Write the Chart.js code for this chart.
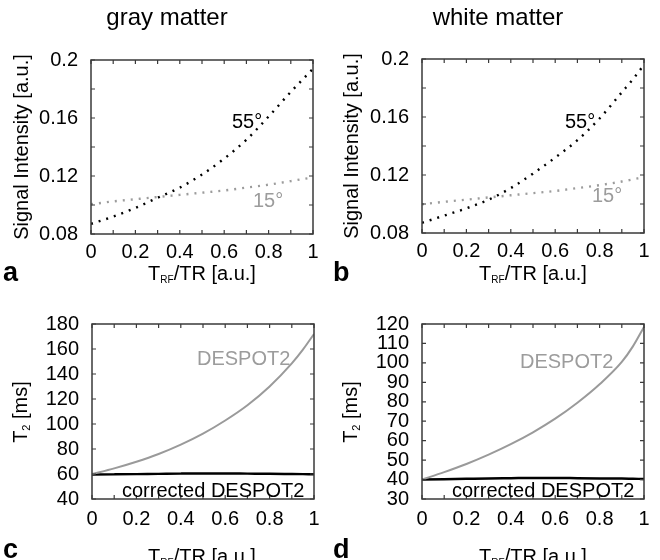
<!DOCTYPE html>
<html>
<head>
<meta charset="utf-8">
<script src="https://cdn.jsdelivr.net/npm/chart.js@4.4.1/dist/chart.umd.min.js"></script>
<style>
  html, body { margin:0; padding:0; background:#fff; }
  #page { position:relative; width:660px; height:560px; overflow:hidden; background:#fff;
          font-family:"Liberation Sans", Arial, Helvetica, sans-serif; color:#000; }
  canvas { position:absolute; }
  .t { position:absolute; line-height:1; white-space:nowrap; font-size:20px; }
  .ttl { font-size:24px; transform:translateX(-50%); }
  .lab { font-size:27px; font-weight:bold; }
  .xt { transform:translateX(-50%); }
  .yt { transform:translate(-50%,-50%) rotate(-90deg); }
  .sub { font-size:10px; vertical-align:-3px; }
  .sub2 { font-size:11px; vertical-align:-3px; }
  .gray { color:#9c9c9c; }
</style>
</head>
<body>
<div id="page">
  <canvas id="ca" width="330" height="280" style="left:0;top:0"></canvas>
  <canvas id="cb" width="330" height="280" style="left:330px;top:0"></canvas>
  <canvas id="cc" width="330" height="280" style="left:0;top:280px"></canvas>
  <canvas id="cd" width="330" height="280" style="left:330px;top:280px"></canvas>

  <div class="t ttl" style="left:167px;top:5px">gray matter</div>
  <div class="t ttl" style="left:498px;top:5px">white matter</div>

  <div class="t lab" style="left:3px;top:259px">a</div>
  <div class="t lab" style="left:333px;top:259px">b</div>
  <div class="t lab" style="left:3px;top:536px">c</div>
  <div class="t lab" style="left:333px;top:536px">d</div>

  <div class="t xt" style="left:202px;top:263px">T<span class="sub">RF</span>/TR [a.u.]</div>
  <div class="t xt" style="left:533px;top:263px">T<span class="sub">RF</span>/TR [a.u.]</div>
  <div class="t xt" style="left:202px;top:546px">T<span class="sub">RF</span>/TR [a.u.]</div>
  <div class="t xt" style="left:533px;top:546px">T<span class="sub">RF</span>/TR [a.u.]</div>

  <div class="t yt" style="left:20.5px;top:146.5px">Signal Intensity [a.u.]</div>
  <div class="t yt" style="left:350.5px;top:146px">Signal Intensity [a.u.]</div>
  <div class="t yt" style="left:20.5px;top:412px">T<span class="sub2">2</span> [ms]</div>
  <div class="t yt" style="left:350.5px;top:412px">T<span class="sub2">2</span> [ms]</div>

  <div class="t" style="left:232px;top:111px">55°</div>
  <div class="t gray" style="left:253px;top:190px">15°</div>
  <div class="t" style="left:565px;top:111px">55°</div>
  <div class="t gray" style="left:592px;top:185px">15°</div>

  <div class="t gray" style="left:197px;top:348px">DESPOT2</div>
  <div class="t" style="left:122px;top:480px">corrected DESPOT2</div>
  <div class="t gray" style="left:520px;top:351px">DESPOT2</div>
  <div class="t" style="left:452px;top:480px">corrected DESPOT2</div>
</div>
<script>
// ---- data ----
const xs = [0, 0.1, 0.2, 0.3, 0.4, 0.5, 0.6, 0.7, 0.8, 0.9, 0.95, 1.0];

const gray55 = [0.087, 0.092, 0.098, 0.105, 0.112, 0.121, 0.132, 0.145, 0.161, 0.178, 0.186, 0.194];
const gray15 = [0.1005, 0.1025, 0.104, 0.1055, 0.107, 0.1085, 0.110, 0.112, 0.114, 0.1165, 0.1178, 0.119];
const white55 = [0.087, 0.092, 0.097, 0.103, 0.111, 0.121, 0.132, 0.144, 0.159, 0.177, 0.186, 0.196];
const white15 = [0.0998, 0.1015, 0.103, 0.1045, 0.106, 0.1075, 0.109, 0.111, 0.113, 0.1155, 0.117, 0.1185];

const grayDespot2 = [60, 64.5, 69.8, 76, 83.5, 92.3, 102.8, 115, 130, 148.5, 159.5, 172];
const grayCorrected = [59.5, 59.7, 59.9, 60.1, 60.3, 60.4, 60.4, 60.3, 60.2, 60.0, 59.9, 59.8];
const whiteDespot2 = [40, 43.8, 48, 52.8, 58.2, 64.3, 71.3, 79.5, 89, 100.5, 108.5, 118.5];
const whiteCorrected = [40, 40.2, 40.4, 40.6, 40.7, 40.8, 40.8, 40.7, 40.6, 40.5, 40.4, 40.3];

// tick positions and labels
const xTicks = [0, 0.1, 0.2, 0.3, 0.4, 0.5, 0.6, 0.7, 0.8, 0.9, 1];
const xTickLabels = ["0", "", "0.2", "", "0.4", "", "0.6", "", "0.8", "", "1"];
const siTicks = [0.08, 0.10, 0.12, 0.14, 0.16, 0.18, 0.20];
const siTickLabels = ["0.08", "", "0.12", "", "0.16", "", "0.2"];
const grayT2Ticks = [40, 60, 80, 100, 120, 140, 160, 180];
const grayT2Labels = ["40", "60", "80", "100", "120", "140", "160", "180"];
const whiteT2Ticks = [30, 40, 50, 60, 70, 80, 90, 100, 110, 120];
const whiteT2Labels = ["30", "40", "50", "60", "70", "80", "90", "100", "110", "120"];

// ---- drawing ----
const FONT = { family: '"Liberation Sans", Arial, Helvetica, sans-serif', size: 20 };
const BOX = '#3a3a3a';

const boxPlugin = {
  id: 'matlabBox',
  afterDatasetsDraw(chart) {
    const { ctx, chartArea: a, scales } = chart;
    ctx.save();
    ctx.strokeStyle = BOX;
    ctx.lineWidth = 1.5;
    ctx.strokeRect(a.left, a.top, a.right - a.left, a.bottom - a.top);
    ctx.lineWidth = 1.2;
    const L = 4;
    ctx.beginPath();
    scales.x.ticks.forEach(t => {
      const px = scales.x.getPixelForValue(t.value);
      ctx.moveTo(px, a.bottom); ctx.lineTo(px, a.bottom - L);
      ctx.moveTo(px, a.top); ctx.lineTo(px, a.top + L);
    });
    scales.y.ticks.forEach(t => {
      const py = scales.y.getPixelForValue(t.value);
      ctx.moveTo(a.left, py); ctx.lineTo(a.left + L, py);
      ctx.moveTo(a.right, py); ctx.lineTo(a.right - L, py);
    });
    ctx.stroke();
    ctx.restore();
  }
};

function pts(ys) { return xs.map((x, i) => ({ x: x, y: ys[i] })); }

function labelFor(list, labels) {
  return function (v) {
    for (let i = 0; i < list.length; i++) if (Math.abs(list[i] - v) < 1e-9) return labels[i];
    return '';
  };
}

function makeChart(id, o) {
  new Chart(document.getElementById(id), {
    type: 'line',
    data: { datasets: o.datasets },
    options: {
      responsive: false, animation: false, devicePixelRatio: 1,
      layout: { padding: { left: 0, top: o.T, right: o.R, bottom: 0 } },
      plugins: { legend: { display: false }, tooltip: { enabled: false } },
      elements: { point: { radius: 0 }, line: { cubicInterpolationMode: 'monotone' } },
      scales: {
        x: {
          type: 'linear', min: 0, max: 1,
          afterBuildTicks: s => { s.ticks = xTicks.map(v => ({ value: v })); },
          afterFit: s => { s.height = o.H; },
          grid: { display: false, drawTicks: false }, border: { display: false },
          ticks: { autoSkip: false, maxRotation: 0, minRotation: 0, padding: o.xpad, color: '#000', font: FONT,
                   callback: labelFor(xTicks, xTickLabels) }
        },
        y: {
          type: 'linear', min: o.ymin, max: o.ymax,
          afterBuildTicks: s => { s.ticks = o.yTicks.map(v => ({ value: v })); },
          afterFit: s => { s.width = o.W; },
          grid: { display: false, drawTicks: false }, border: { display: false },
          ticks: { autoSkip: false, padding: 13, color: '#000', font: FONT,
                   callback: labelFor(o.yTicks, o.yLabels) }
        }
      }
    },
    plugins: [boxPlugin]
  });
}

function dotted(ys, color) {
  return { data: pts(ys), borderColor: color, borderWidth: 2.4, borderDash: [2, 6], borderCapStyle: 'butt', fill: false };
}
function solid(ys, color, w) {
  return { data: pts(ys), borderColor: color, borderWidth: w, fill: false };
}

makeChart('ca', { W: 91, T: 60, R: 17, H: 46, xpad: 6, ymin: 0.08, ymax: 0.2, yTicks: siTicks, yLabels: siTickLabels,
  datasets: [dotted(gray15, '#9c9c9c'), dotted(gray55, '#000')] });
makeChart('cb', { W: 92, T: 59, R: 16, H: 47, xpad: 6, ymin: 0.08, ymax: 0.2, yTicks: siTicks, yLabels: siTickLabels,
  datasets: [dotted(white15, '#9c9c9c'), dotted(white55, '#000')] });
makeChart('cc', { W: 92, T: 44, R: 16, H: 61, xpad: 8, ymin: 40, ymax: 180, yTicks: grayT2Ticks, yLabels: grayT2Labels,
  datasets: [solid(grayDespot2, '#9a9a9a', 2), solid(grayCorrected, '#000', 2.5)] });
makeChart('cd', { W: 92, T: 44, R: 16, H: 61, xpad: 8, ymin: 30, ymax: 120, yTicks: whiteT2Ticks, yLabels: whiteT2Labels,
  datasets: [solid(whiteDespot2, '#9a9a9a', 2), solid(whiteCorrected, '#000', 2.5)] });
</script>
</body>
</html>
